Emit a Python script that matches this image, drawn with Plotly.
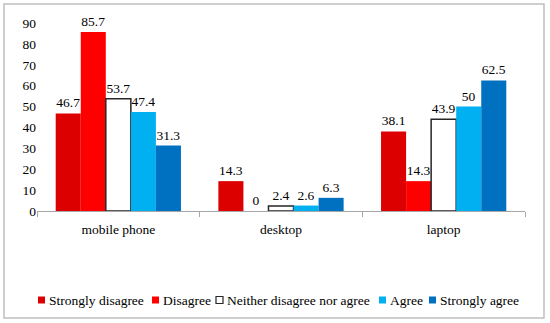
import plotly.graph_objects as go

categories = ["mobile phone", "desktop", "laptop"]
series_names = ["Strongly disagree", "Disagree", "Neither disagree nor agree", "Agree", "Strongly agree"]
strongly_disagree = [46.7, 14.3, 38.1]
disagree = [85.7, 0, 14.3]
neither = [53.7, 2.4, 43.9]
agree = [47.4, 2.6, 50]
strongly_agree = [31.3, 6.3, 62.5]
y_ticks = [0, 10, 20, 30, 40, 50, 60, 70, 80, 90]

values = [strongly_disagree, disagree, neither, agree, strongly_agree]
fills = ["#DC0000", "#FF0000", "#FFFFFF", "#00B0F0", "#0070C0"]
lines = ["#DC0000", "#FF0000", "#262626", "#00B0F0", "#0070C0"]
lwidths = [0, 0, 1.5, 0, 0]

FONT = "Liberation Serif"
# plot area in pixels
L, R, T, B = 37, 525, 23, 211
W, H = R - L, B - T
def px(x):
    return (x - L) / W
def py(y):
    return (B - y) / H

fig = go.Figure()
for name, v, f, lc, lw in zip(series_names, values, fills, lines, lwidths):
    fig.add_trace(go.Bar(
        name=name, x=categories, y=v,
        marker=dict(color=f, line=dict(color=lc, width=lw)),
        text=[f"{x:g}" for x in v], textposition="outside",
        textfont=dict(family=FONT, size=13.5, color="#000000"),
        cliponaxis=False, showlegend=False, hoverinfo="skip",
    ))

# custom legend (squares + text) laid out like the reference
leg_sq_x = [38, 152, 216, 379, 429]
leg_y = 300
shapes = [dict(type="rect", xref="paper", yref="paper",
               x0=px(4), x1=px(544), y0=py(318), y1=py(4),
               line=dict(color="#BFBFBF", width=1.5), fillcolor="rgba(0,0,0,0)", layer="below")]
annotations = []
for name, f, lc, lw, sx in zip(series_names, fills, lines, lwidths, leg_sq_x):
    shapes.append(dict(type="rect", xref="paper", yref="paper",
                       x0=px(sx), x1=px(sx + 7), y0=py(leg_y + 3.5), y1=py(leg_y - 3.5),
                       fillcolor=f, line=dict(color=lc if lw else f, width=1.2 if lw else 0)))
    annotations.append(dict(xref="paper", yref="paper", x=px(sx + 9), y=py(leg_y),
                            xanchor="left", yanchor="middle", text=name, showarrow=False,
                            font=dict(family=FONT, size=13.5, color="#000000")))

fig.update_layout(
    width=550, height=323,
    margin=dict(l=L, r=550 - R, t=T, b=323 - B, autoexpand=False),
    paper_bgcolor="white", plot_bgcolor="white",
    barmode="group", bargap=0.23, bargroupgap=0,
    font=dict(family=FONT, size=13.5, color="#000000"),
    showlegend=False, hovermode=False,
    shapes=shapes, annotations=annotations,
)
fig.update_xaxes(showline=True, linecolor="#A6A6A6", linewidth=1, ticks="outside",
                 tickson="boundaries", ticklen=5, tickcolor="#A6A6A6", showgrid=False,
                 ticklabelstandoff=6, automargin=False,
                 tickfont=dict(family=FONT, size=13.5))
fig.update_yaxes(range=[0, 90], tickvals=y_ticks, showgrid=False, showline=False,
                 zeroline=False, ticks="", automargin=False,
                 tickfont=dict(family=FONT, size=13.5))

fig.write_html("out.html", config={"displayModeBar": False},
               post_script="document.body.style.margin='0';")
